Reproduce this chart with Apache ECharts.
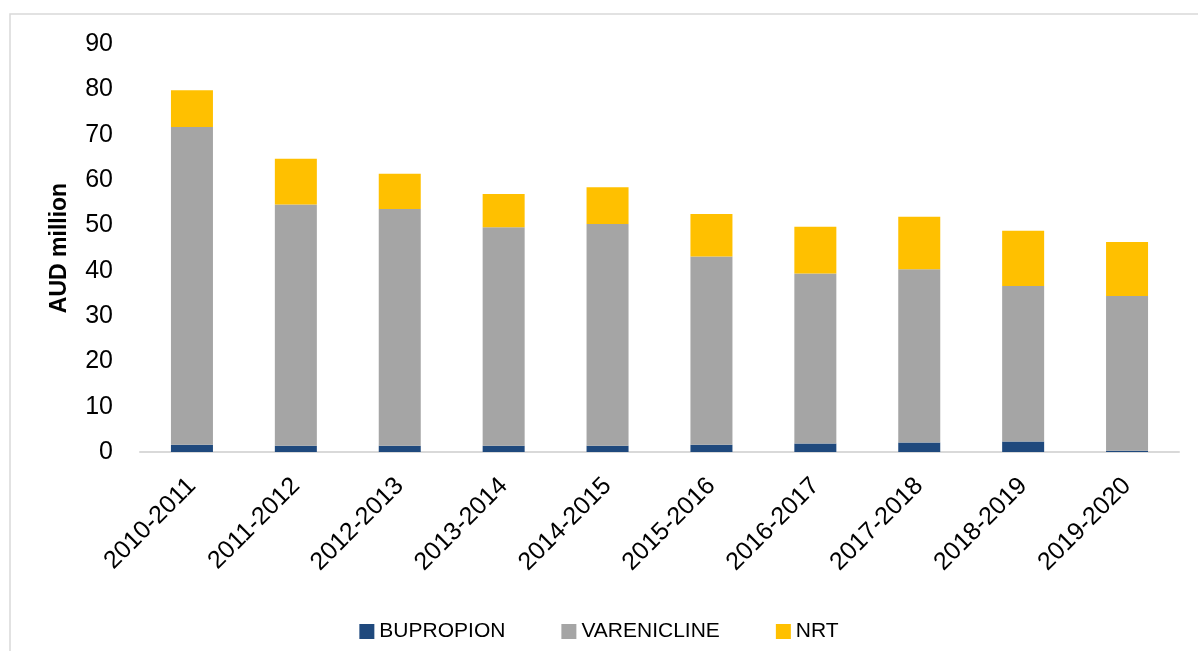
<!DOCTYPE html>
<html>
<head>
<meta charset="utf-8">
<script src="https://cdn.jsdelivr.net/npm/echarts@6/dist/echarts.min.js"></script>
<style>
  html, body { margin: 0; padding: 0; background: #fff; }
  #bar { width: 1198px; height: 651px; }
</style>
</head>
<body>
<div id="bar"></div>
<script>
// 数据
const years = ['2010-2011', '2011-2012', '2012-2013', '2013-2014', '2014-2015',
  '2015-2016', '2016-2017', '2017-2018', '2018-2019', '2019-2020']
const bupropion = [1.6, 1.4, 1.4, 1.4, 1.4, 1.6, 1.9, 2.1, 2.3, 0.3]
const varenicline = [70.1, 53.2, 52.2, 48.2, 48.9, 41.5, 37.5, 38.2, 34.3, 34.1]
const nrt = [8.1, 10.1, 7.8, 7.3, 8.1, 9.4, 10.3, 11.6, 12.2, 11.9]

const font = 'Liberation Sans'

let myChart = echarts.init(document.getElementById('bar'))

let opt = {
  animation: false,
  textStyle: { fontFamily: font },
  // 外框
  graphic: [{
    type: 'rect',
    shape: { x: 10, y: 14, width: 1200, height: 700 },
    style: { fill: 'none', stroke: '#d9d9d9', lineWidth: 1.5 },
    silent: true
  }],
  legend: {
    data: ['BUPROPION', 'VARENICLINE', 'NRT'],
    top: 616,
    left: 'center',
    itemWidth: 15,
    itemHeight: 15,
    itemGap: 56,
    icon: 'rect',
    textStyle: { fontSize: 21, color: '#000', fontFamily: font }
  },
  grid: {
    left: 140,
    right: 19,
    top: 44,
    bottom: 199
  },
  xAxis: {
    type: 'category',
    data: years,
    axisLine: { lineStyle: { color: '#d9d9d9', width: 2 } },
    axisTick: { show: false },
    axisLabel: {
      rotate: 45,
      margin: 30,
      fontSize: 25,
      color: '#000',
      fontFamily: font
    }
  },
  yAxis: {
    type: 'value',
    min: 0,
    max: 90,
    interval: 10,
    name: 'AUD million',
    nameLocation: 'middle',
    nameGap: 69,
    nameRotate: 90,
    nameTextStyle: { fontSize: 23, fontWeight: 'bold', color: '#000', fontFamily: font },
    axisLine: { show: false },
    axisTick: { show: false },
    splitLine: { show: false },
    axisLabel: { fontSize: 25, color: '#000', margin: 27, fontFamily: font }
  },
  series: [{
    name: 'BUPROPION',
    type: 'bar',
    stack: 'total',
    barWidth: 42,
    itemStyle: { color: '#1f497d' },
    data: bupropion
  }, {
    name: 'VARENICLINE',
    type: 'bar',
    stack: 'total',
    itemStyle: { color: '#a5a5a5' },
    data: varenicline
  }, {
    name: 'NRT',
    type: 'bar',
    stack: 'total',
    itemStyle: { color: '#ffc000' },
    data: nrt
  }]
}

myChart.setOption(opt)
</script>
</body>
</html>
